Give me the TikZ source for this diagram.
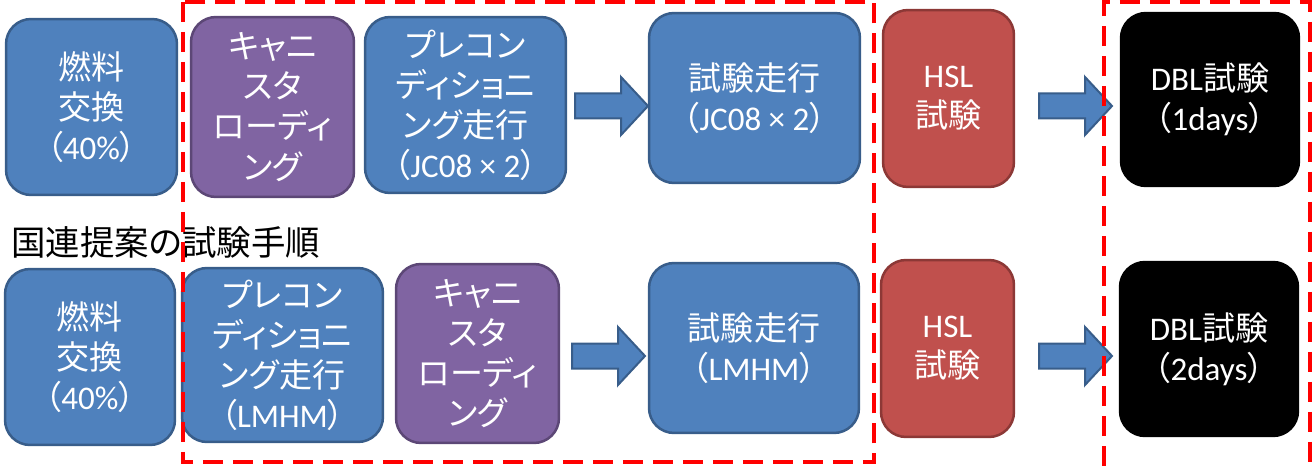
\documentclass[tikz,border=0pt]{standalone}
\usepackage{fontspec}
\setmainfont{Noto Sans CJK JP}[RawFeature=+palt]
\newfontfamily\latfont{Carlito}[Scale=1.0]
\newcommand\ltn[1]{{\latfont #1}}
\definecolor{runblue}{HTML}{4F81BD}
\definecolor{runblueline}{HTML}{385D8A}
\definecolor{canpurple}{HTML}{8064A2}
\definecolor{canpurpleline}{HTML}{5C4776}
\definecolor{hslred}{HTML}{C0504D}
\definecolor{hslredline}{HTML}{8C3836}

\begin{document}
\begin{tikzpicture}[x=0.02cm, y=-0.02cm, font=\fontsize{18.8}{22.8}\selectfont,
box/.style={draw, line width=0.05cm, rounded corners=0.5cm, text=white, align=center, inner sep=0pt},
runbox/.style={box, fill=runblue, draw=runblueline},
canbox/.style={box, fill=canpurple, draw=canpurpleline},
hslbox/.style={box, fill=hslred, draw=hslredline},
dblbox/.style={box, fill=black, draw=black},
barrow/.style={fill=runblue, draw=runblueline, line width=0.04cm},
frame/.style={draw=red, line width=0.09cm, dash pattern=on 0.4cm off 0.2cm}]
\useasboundingbox (0,0) rectangle (1316,466);
% current procedure
\node[runbox, minimum width=3.42cm, minimum height=3.52cm] (fuel1) at (91.5,107) {燃料\\交換\\（\ltn{40\%}）};
\node[canbox, minimum width=3.26cm, minimum height=3.6cm] (can1) at (272.5,107) {キャニ\\スタ\\ローディ\\ング};
\node[runbox, minimum width=4.02cm, minimum height=3.52cm] (pre1) at (465.5,105) {プレコン\\ディショニ\\ング走行\\（\ltn{JC08 × 2}）};
\node[runbox, minimum width=4.22cm, minimum height=3.4cm] (run1) at (754.5,98) {試験走行\\（\ltn{JC08 × 2}）};
\node[hslbox, minimum width=2.62cm, minimum height=3.54cm] (hsl1) at (948.5,98.5) {\ltn{HSL}\\試験};
\node[dblbox, minimum width=3.56cm, minimum height=3.46cm] (dbl1) at (1210,99.5) {\ltn{DBL}試験\\（\ltn{1days}）};
% UN proposal
\node[anchor=west, font=\fontsize{19.6}{24}\selectfont] (title) at (5,242) {国連提案の試験手順};
\node[runbox, minimum width=3.4cm, minimum height=3.52cm] (fuel2) at (90,357) {燃料\\交換\\（\ltn{40\%}）};
\node[runbox, minimum width=4.02cm, minimum height=3.48cm] (pre2) at (282.5,355) {プレコン\\ディショニ\\ング走行\\（\ltn{LMHM}）};
\node[canbox, minimum width=3.26cm, minimum height=3.58cm] (can2) at (477.5,353.5) {キャニ\\スタ\\ローディ\\ング};
\node[runbox, minimum width=4.2cm, minimum height=3.4cm] (run2) at (754,348) {試験走行\\（\ltn{LMHM}）};
\node[hslbox, minimum width=2.66cm, minimum height=3.54cm] (hsl2) at (947.5,348.5) {\ltn{HSL}\\試験};
\node[dblbox, minimum width=3.56cm, minimum height=3.48cm] (dbl2) at (1209,349) {\ltn{DBL}試験\\（\ltn{2days}）};
% block arrows
\foreach \ax/\ay in {575/106, 1039/106, 572/356, 1039/356}
  \draw[barrow] (\ax,\ay-12.5) -- ++(46,0) -- ++(0,-16.5) -- ++(27,29) -- ++(-27,29) -- ++(0,-16.5) -- ++(-46,0) -- cycle;
% dashed frames
\draw[frame] (183,2) rectangle (874,462);
\draw[frame] (1104,466) -- (1104,2) -- (1310,2) -- (1310,466);
\end{tikzpicture}
\end{document}
